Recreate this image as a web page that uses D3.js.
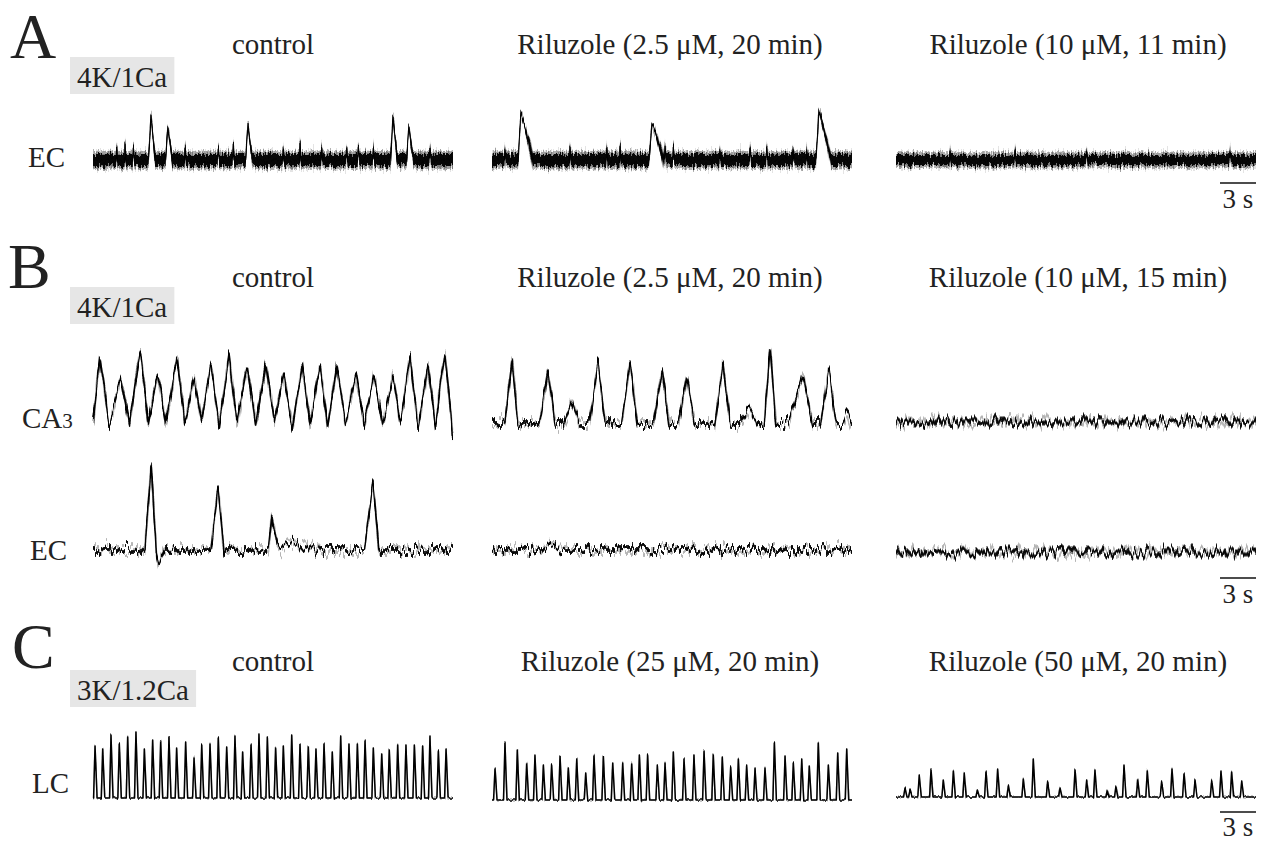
<!DOCTYPE html>
<html>
<head>
<meta charset="utf-8">
<script src="https://cdn.jsdelivr.net/npm/d3@7"></script>
<style>
  body { margin: 0; background: #fff; }
  text { font-family: "Liberation Serif", "Times New Roman", serif; fill: #222; }
</style>
</head>
<body>
<svg id="fig" width="1262" height="844"></svg>
<script>
// ---- data (time in s, amplitude in arbitrary units above baseline) ----
const duration = 30;
const scaleBarSeconds = 3;

const panelLetters = ["A", "B", "C"];
const solutions = ["4K/1Ca", "4K/1Ca", "3K/1.2Ca"];
const panelATitles = ["control", "Riluzole (2.5 \u03BCM, 20 min)", "Riluzole (10 \u03BCM, 11 min)"];
const panelBTitles = ["control", "Riluzole (2.5 \u03BCM, 20 min)", "Riluzole (10 \u03BCM, 15 min)"];
const panelCTitles = ["control", "Riluzole (25 \u03BCM, 20 min)", "Riluzole (50 \u03BCM, 20 min)"];

// A: EC, events [t, amp, rise?, decay?]
const aEcControl = [[4.83, 45], [6.25, 34], [12.92, 37], [25.0, 45], [26.33, 33]];
const aEcControlSmall = [[1.97, 12], [2.67, 16], [3.36, 13], [7.67, 12], [10.44, 12], [11.69, 17], [15.86, 12],
  [17.25, 16], [19.06, 12], [21.14, 12], [22.11, 14], [23.36, 13], [28.08, 12]];
const aEcRilu25 = [[2.42, 48], [13.33, 37], [27.25, 50]];
const aEcRilu25Small = [[1.08, 11], [6.5, 13], [9.56, 12], [10.67, 14], [14.42, 14], [15.11, 13], [19.0, 11],
  [21.5, 12], [22.89, 13], [25.11, 12], [26.22, 11]];
const aEcRilu10 = [];
const aEcRilu10Small = [[4.5, 9], [9.92, 10], [15.89, 8], [27.83, 9]];

// B: CA3 control as peaks and troughs
const bCa3ControlPeaks = [[0.58, 58], [2.33, 38], [3.92, 68], [5.42, 41], [7.0, 60], [8.42, 38], [9.83, 53],
  [11.33, 61], [12.83, 50], [14.42, 53], [15.92, 42], [17.42, 51], [18.92, 50], [20.33, 50], [21.92, 42],
  [23.42, 41], [25.0, 41], [26.42, 60], [27.92, 51], [29.33, 64]];
const bCa3ControlTroughs = [[0, -6], [1.35, -8], [3.05, -10], [4.6, -6], [6.1, -8], [7.65, -6], [9.05, -5],
  [10.5, -10], [12.0, -6], [13.55, -8], [15.1, -6], [16.6, -12], [18.1, -8], [19.55, -10], [21.05, -6],
  [22.6, -8], [24.15, -8], [25.65, -6], [27.1, -10], [28.55, -8], [29.95, -16]];
const bCa3Rilu25 = [[1.67, 65, 0.6, 0.5], [4.67, 55], [6.67, 24], [8.83, 62], [11.5, 62], [14.17, 55], [16.25, 49],
  [19.25, 62], [21.5, 17], [23.17, 77, 0.5, 0.5], [25.92, 49, 1.2, 0.8], [28.08, 54], [29.58, 12, 0.3, 0.3]];
const bCa3Rilu10 = [];
const bEcControl = [[4.83, 85, 0.5, 0.45], [5.45, -15, 0.25, 0.5], [10.42, 62, 0.6, 0.5], [14.92, 35, 0.3, 0.5],
  [16.5, 8, 1.2, 2.5], [23.33, 67, 0.7, 0.5]];
const bEcRilu25 = [[4.8, 8, 0.6, 1.0]];
const bEcRilu10 = [];

// C: LC bursts
const cLcControl = [[0.17, 52], [0.81, 49], [1.5, 63], [2.19, 55], [2.89, 61], [3.58, 66], [4.28, 49], [4.97, 58],
  [5.64, 57], [6.33, 61], [6.97, 50], [7.72, 56], [8.42, 41], [9.06, 53], [9.75, 54], [10.44, 61], [11.14, 51],
  [11.83, 62], [12.47, 46], [13.17, 54], [13.83, 64], [14.53, 61], [15.22, 50], [15.86, 52], [16.56, 63],
  [17.25, 54], [17.94, 52], [18.58, 49], [19.25, 54], [19.94, 46], [20.64, 61], [21.33, 54], [22.03, 54],
  [22.67, 58], [23.36, 50], [24.06, 44], [24.69, 48], [25.39, 53], [26.08, 53], [26.78, 53], [27.47, 52],
  [28.08, 62], [28.78, 47], [29.42, 49]];
const cLcRilu25 = [[0.25, 32], [1.08, 57], [2.11, 50], [2.89, 37], [3.58, 45], [4.28, 35], [4.97, 35], [5.67, 44],
  [6.36, 32], [7.06, 41], [7.81, 27], [8.5, 45], [9.28, 44], [10.06, 37], [10.89, 37], [11.64, 37], [12.28, 45],
  [12.97, 45], [13.78, 35], [14.42, 37], [15.11, 48], [16.0, 42], [16.83, 45], [17.67, 49], [18.44, 46],
  [19.19, 43], [19.89, 33], [20.53, 41], [21.22, 34], [21.92, 32], [22.75, 33], [23.53, 57], [24.42, 44],
  [25.11, 37], [25.81, 41], [26.44, 34], [27.19, 58], [28.03, 34], [28.81, 47], [29.56, 51]];
const cLcRilu50 = [[0.75, 9], [1.17, 7], [1.94, 21], [2.92, 27], [3.94, 17], [4.78, 26], [5.69, 24], [6.78, 7],
  [7.5, 25], [8.47, 28], [9.36, 12], [10.61, 18], [11.44, 38], [12.64, 16], [13.67, 9], [14.92, 27], [15.89, 17],
  [16.58, 27], [17.61, 7], [18.33, 11], [19.0, 31], [20.14, 18], [20.94, 27], [22.14, 16], [23.0, 29], [24.0, 24],
  [24.92, 17], [26.31, 17], [27.08, 25], [27.97, 26], [28.81, 16]];

// ---- layout ----
const svg = d3.select("#fig");
const colX = [93, 492, 896];
const traceW = 360;
const titleX = [273, 670, 1078];

function xScaleFor(col) {
  return d3.scaleLinear().domain([0, duration]).range([colX[col], colX[col] + traceW]);
}

// recording jitter is a render effect: vertical displacement of the drawn trace,
// plus a fainter, wider copy for the grey fringe of overlapping sweeps
const defs = svg.append("defs");
function jitterFilter(id, freq, scale, seed, fringeScale, fringeOp) {
  const f = defs.append("filter").attr("id", id)
    .attr("filterUnits", "userSpaceOnUse")
    .attr("x", 0).attr("y", 0).attr("width", 1262).attr("height", 844);
  const shiftY = "0 0 0 0 0.5  0 1 0 0 0  0 0 0 0 0  0 0 0 0 1";
  f.append("feTurbulence").attr("type", "fractalNoise")
    .attr("baseFrequency", freq).attr("numOctaves", 2).attr("seed", seed).attr("result", "t1");
  f.append("feColorMatrix").attr("in", "t1").attr("type", "matrix").attr("values", shiftY).attr("result", "m1");
  f.append("feDisplacementMap").attr("in", "SourceGraphic").attr("in2", "m1")
    .attr("scale", scale).attr("xChannelSelector", "R").attr("yChannelSelector", "G").attr("result", "d1");
  f.append("feTurbulence").attr("type", "fractalNoise")
    .attr("baseFrequency", freq).attr("numOctaves", 2).attr("seed", seed + 20).attr("result", "t2");
  f.append("feColorMatrix").attr("in", "t2").attr("type", "matrix").attr("values", shiftY).attr("result", "m2");
  f.append("feDisplacementMap").attr("in", "SourceGraphic").attr("in2", "m2")
    .attr("scale", fringeScale).attr("xChannelSelector", "R").attr("yChannelSelector", "G").attr("result", "d2");
  f.append("feColorMatrix").attr("in", "d2").attr("type", "matrix")
    .attr("values", `1 0 0 0 0  0 1 0 0 0  0 0 1 0 0  0 0 0 ${fringeOp} 0`).attr("result", "d2f");
  const merge = f.append("feMerge");
  merge.append("feMergeNode").attr("in", "d2f");
  merge.append("feMergeNode").attr("in", "d1");
}
jitterFilter("jDense", "0.6 0.04", 12, 3, 20, 0.35);
jitterFilter("jThin", "0.35 0.03", 22, 7, 26, 0.3);
jitterFilter("jFine", "0.3 0.02", 4, 11, 5, 0.3);

// value of one triangular event at time t
function tri(t, e, rise, decay) {
  const tp = e[0], a = e[1];
  const r = e[2] !== undefined ? e[2] : rise;
  const d = e[3] !== undefined ? e[3] : decay;
  if (t <= tp - r || t >= tp + d) return 0;
  return t <= tp ? a * (t - (tp - r)) / r : a * ((tp + d) - t) / d;
}

// vertices of the summed event trace (breakpoints of the triangles only)
function eventTrace(events, rise, decay) {
  const times = new Set([0, duration]);
  events.forEach(e => {
    const r = e[2] !== undefined ? e[2] : rise;
    const d = e[3] !== undefined ? e[3] : decay;
    [e[0] - r, e[0], e[0] + d].forEach(t => times.add(Math.min(duration, Math.max(0, t))));
  });
  return Array.from(times).sort((a, b) => a - b)
    .map(t => [t, d3.sum(events, e => tri(t, e, rise, decay))]);
}

const small = arr => arr.map(d => [d[0], d[1], 0.05, 0.08]);

const denseBands = n => [{n: n + 3, op: 0.3}, {n: n, op: 0.95}];
const thinBands = n => [{n: n, op: 0.85}];

const traces = [
  {col: 0, baseY: 160, pts: eventTrace(aEcControl.concat(small(aEcControlSmall)), 0.2, 0.35), bands: denseBands(6), sw: 1.2, filter: "jDense"},
  {col: 1, baseY: 160, pts: eventTrace(aEcRilu25.concat(small(aEcRilu25Small)), 0.25, 1.0), bands: denseBands(6), sw: 1.2, filter: "jDense"},
  {col: 2, baseY: 160, pts: eventTrace(aEcRilu10.concat(small(aEcRilu10Small)), 0.2, 0.3), bands: denseBands(5), sw: 1.2, filter: "jDense"},

  {col: 0, baseY: 416, pts: bCa3ControlPeaks.concat(bCa3ControlTroughs).sort((a, b) => a[0] - b[0]), bands: thinBands(2), sw: 1.7, filter: "jThin"},
  {col: 1, baseY: 424, pts: eventTrace(bCa3Rilu25, 0.7, 0.6), bands: thinBands(2), sw: 1.6, filter: "jThin"},
  {col: 2, baseY: 422, pts: eventTrace(bCa3Rilu10, 0.5, 0.5), bands: thinBands(2.5), sw: 1.6, filter: "jThin"},

  {col: 0, baseY: 550, pts: eventTrace(bEcControl, 0.5, 0.5), bands: thinBands(2), sw: 1.6, filter: "jThin"},
  {col: 1, baseY: 550, pts: eventTrace(bEcRilu25, 0.5, 0.5), bands: thinBands(2), sw: 1.6, filter: "jThin"},
  {col: 2, baseY: 552, pts: eventTrace(bEcRilu10, 0.5, 0.5), bands: thinBands(2.5), sw: 1.6, filter: "jThin"},

  {col: 0, baseY: 798, pts: eventTrace(cLcControl, 0.12, 0.17), bands: [], sw: 1.5, filter: "jFine"},
  {col: 1, baseY: 800, pts: eventTrace(cLcRilu25, 0.12, 0.17), bands: [], sw: 1.5, filter: "jFine"},
  {col: 2, baseY: 797, pts: eventTrace(cLcRilu50, 0.12, 0.17), bands: [], sw: 1.5, filter: "jFine"}
];

// noise band gets thinner on tall deflections
const halfWidth = (v, n) => n * Math.max(0.2, 1 - Math.abs(v) / 35);

traces.forEach(spec => {
  const x = xScaleFor(spec.col);
  const y = d3.scaleLinear().domain([0, 100]).range([spec.baseY, spec.baseY - 100]);
  const g = svg.append("g").attr("filter", `url(#${spec.filter})`);
  spec.bands.forEach(b => {
    const area = d3.area()
      .x(d => x(d[0]))
      .y0(d => y(d[1]) + halfWidth(d[1], b.n))
      .y1(d => y(d[1]) - halfWidth(d[1], b.n));
    g.append("path").datum(spec.pts)
      .attr("d", area)
      .attr("fill", "#000")
      .attr("fill-opacity", b.op);
  });
  const line = d3.line().x(d => x(d[0])).y(d => y(d[1]));
  g.append("path").datum(spec.pts)
    .attr("d", line)
    .attr("fill", "none")
    .attr("stroke", "#000")
    .attr("stroke-width", spec.sw)
    .attr("stroke-linejoin", "round");
});

// panel letters, solution boxes and titles
const letterY = [58, 288, 668];
const letterX = [10, 8, 12];
const titleY = [54, 287, 671];
const solY = [87, 317, 700];
const titles = [panelATitles, panelBTitles, panelCTitles];

panelLetters.forEach((letter, i) => {
  svg.append("text")
    .attr("x", letterX[i]).attr("y", letterY[i])
    .attr("font-size", 64)
    .text(letter);

  const sol = svg.append("g");
  const rect = sol.append("rect").attr("fill", "#e6e6e6");
  const t = sol.append("text")
    .attr("x", 77).attr("y", solY[i])
    .attr("font-size", 29)
    .text(solutions[i]);
  const bb = t.node().getBBox();
  rect.attr("x", bb.x - 7).attr("y", solY[i] - 30)
    .attr("width", bb.width + 14).attr("height", 37);

  titles[i].forEach((s, c) => {
    svg.append("text")
      .attr("x", titleX[c]).attr("y", titleY[i])
      .attr("text-anchor", "middle")
      .attr("font-size", 29)
      .text(s);
  });
});

// row labels
const rowLabels = [
  {name: "EC", sub: "", x: 28, y: 167},
  {name: "CA", sub: "3", x: 22, y: 428},
  {name: "EC", sub: "", x: 30, y: 560},
  {name: "LC", sub: "", x: 32, y: 793}
];
rowLabels.forEach(r => {
  const t = svg.append("text")
    .attr("x", r.x).attr("y", r.y)
    .attr("font-size", 29)
    .text(r.name);
  if (r.sub) t.append("tspan").attr("font-size", 21).text(r.sub);
});

// 3 s scale bars under the right column
const barY = [183, 578, 812];
const barTextY = [208, 603, 836];
const xr = xScaleFor(2);
barY.forEach((by, i) => {
  svg.append("line")
    .attr("x1", xr(duration - scaleBarSeconds)).attr("x2", xr(duration))
    .attr("y1", by).attr("y2", by)
    .attr("stroke", "#111").attr("stroke-width", 1.5);
  svg.append("text")
    .attr("x", (xr(duration - scaleBarSeconds) + xr(duration)) / 2)
    .attr("y", barTextY[i])
    .attr("text-anchor", "middle")
    .attr("font-size", 27)
    .text(scaleBarSeconds + " s");
});
</script>
</body>
</html>
